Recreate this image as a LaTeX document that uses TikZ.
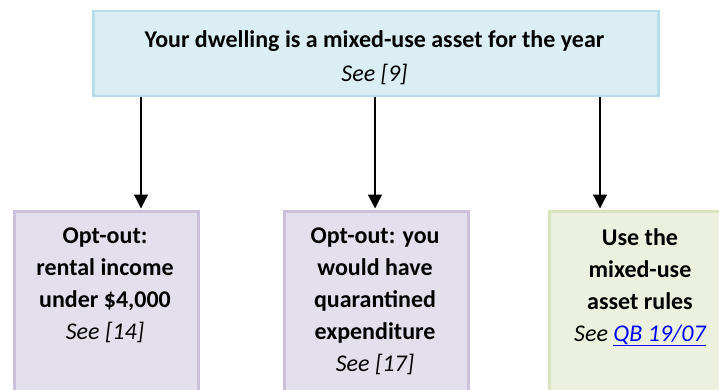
\documentclass[tikz,border=0pt]{standalone}
\usepackage{fontspec}
\setmainfont{Carlito}
\usetikzlibrary{arrows.meta}
\definecolor{bluefill}{HTML}{DAEEF3}
\definecolor{blueline}{HTML}{B7DEE8}
\definecolor{purpfill}{HTML}{E4DFEC}
\definecolor{purpline}{HTML}{CCC0DA}
\definecolor{greenfill}{HTML}{EBF1DE}
\definecolor{greenline}{HTML}{D8E4BC}
\definecolor{linkblue}{HTML}{0000FF}
\tikzset{
  box/.style={rectangle, line width=2.5pt, anchor=north west, inner sep=0pt},
  topbox/.style={box, draw=blueline, fill=bluefill, minimum width=565pt, minimum height=85pt},
  optbox/.style={box, draw=purpline, fill=purpfill, minimum width=184pt, minimum height=200pt},
  usebox/.style={box, draw=greenline, fill=greenfill, minimum width=184pt, minimum height=200pt},
  txt/.style={anchor=north, align=center, inner sep=0pt, font=\fontsize{24}{32}\selectfont},
  arr/.style={line width=1.3pt, -{Triangle[width=14pt,length=14pt]}}
}
\begin{document}
\begin{tikzpicture}[x=1pt,y=-1pt]
\useasboundingbox (0,0) rectangle (719,390);
\clip (0,0) rectangle (719,390);
\node[topbox] (top) at (92,10) {};
\node[optbox] (b1) at (13,210) {};
\node[optbox] (b2) at (283,210) {};
\node[usebox] (b3) at (548,210) {};
\node[txt, font=\fontsize{24}{34}\selectfont] (t0) at (374.5,30) {\textbf{Your dwelling is a mixed-use asset for the year}\\\textit{See [9]}};
\node[txt] (t1) at (105,228) {\textbf{Opt-out:}\\\textbf{rental income}\\\textbf{under \$4,000}\\\textit{See [14]}};
\node[txt] (t2) at (375,228) {\textbf{Opt-out: you}\\\textbf{would have}\\\textbf{quarantined}\\\textbf{expenditure}\\\textit{See [17]}};
\node[txt] (t3) at (640,228) {\textbf{Use the}\\\textbf{mixed-use}\\\textbf{asset rules}\\\textit{See \textcolor{linkblue}{\underline{QB 19/07}}}};
\coordinate (a1) at (141,208.5);
\coordinate (a2) at (375,208.5);
\coordinate (a3) at (600,208.5);
\draw[arr] (top.south -| a1) -- (a1);
\draw[arr] (top.south -| a2) -- (a2);
\draw[arr] (top.south -| a3) -- (a3);
\end{tikzpicture}
\end{document}
